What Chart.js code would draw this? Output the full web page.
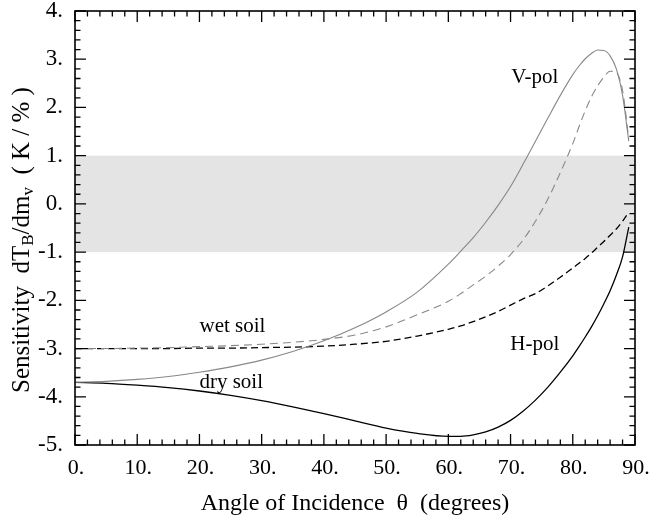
<!DOCTYPE html>
<html>
<head>
<meta charset="utf-8">
<script src="https://cdn.jsdelivr.net/npm/chart.js@4.4.0/dist/chart.umd.min.js"></script>
<style>
body { margin: 0; background: #fff; }
#wrap { width: 649px; height: 521px; }
</style>
</head>
<body>
<div id="wrap"><canvas id="sens"></canvas></div>
<script>
// incidence angle (degrees), shared by every curve
const angles  = [0, 5, 10, 15, 20, 25, 30, 35, 40, 45, 50, 55, 60, 62, 64, 66, 68, 70, 72, 74, 76, 78, 80, 81, 82, 83, 84, 85, 86, 87, 88, 89];
// sensitivity dTB/dmv (K/%)
const vpolDry = [-3.70, -3.68, -3.64, -3.58, -3.49, -3.38, -3.24, -3.06, -2.84, -2.57, -2.24, -1.83, -1.25, -0.98, -0.70, -0.38, -0.03, 0.36, 0.82, 1.30, 1.78, 2.25, 2.68, 2.86, 3.01, 3.12, 3.19, 3.18, 3.07, 2.80, 2.25, 1.30];
const vpolWet = [-3.00, -3.00, -2.99, -2.98, -2.96, -2.94, -2.91, -2.87, -2.81, -2.72, -2.55, -2.30, -2.02, -1.86, -1.68, -1.50, -1.29, -1.05, -0.75, -0.36, 0.10, 0.65, 1.25, 1.60, 1.93, 2.22, 2.45, 2.63, 2.75, 2.72, 2.35, 1.35];
const hpolWet = [-3.00, -3.00, -3.00, -3.00, -2.99, -2.99, -2.98, -2.97, -2.95, -2.91, -2.85, -2.74, -2.60, -2.53, -2.44, -2.34, -2.23, -2.10, -1.97, -1.86, -1.70, -1.52, -1.33, -1.23, -1.13, -1.02, -0.90, -0.78, -0.65, -0.52, -0.36, -0.17];
const hpolDry = [-3.70, -3.72, -3.76, -3.81, -3.88, -3.97, -4.08, -4.21, -4.35, -4.50, -4.65, -4.76, -4.82, -4.82, -4.79, -4.73, -4.63, -4.49, -4.30, -4.07, -3.80, -3.49, -3.15, -2.96, -2.76, -2.55, -2.32, -2.07, -1.80, -1.48, -1.10, -0.48];

// shaded band of +-1 K/%
const band = [-1, 1];

const xTickLabels = ['0.', '10.', '20.', '30.', '40.', '50.', '60.', '70.', '80.', '90.'];
const yTickLabels = ['-5.', '-4.', '-3.', '-2.', '-1.', '0.', '1.', '2.', '3.', '4.'];

// curve labels: [text, angle, value]
const notes = [
  ['V-pol', 73.9, 2.63],
  ['H-pol', 73.9, -2.91],
  ['wet soil', 25.3, -2.55],
  ['dry soil', 25.1, -3.71]
];

const serif = '"Liberation Serif", "DejaVu Serif", serif';

function pts(vals) {
  return angles.map((a, i) => ({ x: a, y: vals[i] }));
}

// band, frame, inward ticks, curve labels and the y title
const decor = {
  id: 'decor',
  beforeDatasetsDraw(chart) {
    const { ctx, chartArea: a, scales: { y } } = chart;
    const yHi = y.getPixelForValue(band[1]);
    const yLo = y.getPixelForValue(band[0]);
    ctx.save();
    ctx.fillStyle = '#e4e4e4';
    ctx.fillRect(a.left, yHi, a.right - a.left, yLo - yHi);
    ctx.restore();
  },
  afterDatasetsDraw(chart) {
    const { ctx, chartArea: a, scales: { x, y } } = chart;
    ctx.save();
    ctx.strokeStyle = '#000';
    ctx.lineWidth = 1.3;
    ctx.beginPath();
    // x ticks every 2 deg, major every 10
    for (let v = 0; v <= 90; v += 2) {
      const px = x.getPixelForValue(v);
      const len = v % 10 === 0 ? 11 : 5.5;
      ctx.moveTo(px, a.bottom); ctx.lineTo(px, a.bottom - len);
      ctx.moveTo(px, a.top); ctx.lineTo(px, a.top + len);
    }
    // y ticks every 0.2, major every 1
    for (let k = -25; k <= 20; k++) {
      const py = y.getPixelForValue(k / 5);
      const len = k % 5 === 0 ? 11 : 5.5;
      ctx.moveTo(a.left, py); ctx.lineTo(a.left + len, py);
      ctx.moveTo(a.right, py); ctx.lineTo(a.right - len, py);
    }
    ctx.stroke();
    ctx.lineWidth = 1.6;
    ctx.strokeRect(a.left, a.top, a.right - a.left, a.bottom - a.top);

    ctx.fillStyle = '#000';
    ctx.font = '21px ' + serif;
    ctx.textAlign = 'center';
    ctx.textBaseline = 'middle';
    notes.forEach(n => {
      ctx.fillText(n[0], x.getPixelForValue(n[1]), y.getPixelForValue(n[2]));
    });

    // y title with subscripts
    ctx.translate(22, y.getPixelForValue(-0.75));
    ctx.rotate(-Math.PI / 2);
    const parts = [['Sensitivity  dT', 0], ['B', 1], ['/dm', 0], ['v', 1], ['  ( K / % )', 0]];
    const big = '25px ' + serif, small = '17px ' + serif;
    let total = 0;
    parts.forEach(p => { ctx.font = p[1] ? small : big; total += ctx.measureText(p[0]).width; });
    let cx = -total / 2;
    ctx.textAlign = 'left';
    parts.forEach(p => {
      ctx.font = p[1] ? small : big;
      ctx.fillText(p[0], cx, p[1] ? 7 : 0);
      cx += ctx.measureText(p[0]).width;
    });
    ctx.restore();
  }
};

new Chart(document.getElementById('sens'), {
  type: 'line',
  data: {
    datasets: [
      { label: 'V-pol dry soil', data: pts(vpolDry), borderColor: '#888', borderWidth: 1.1 },
      { label: 'V-pol wet soil', data: pts(vpolWet), borderColor: '#888', borderWidth: 1.1, borderDash: [8, 5] },
      { label: 'H-pol wet soil', data: pts(hpolWet), borderColor: '#000', borderWidth: 1.3, borderDash: [7, 4] },
      { label: 'H-pol dry soil', data: pts(hpolDry), borderColor: '#000', borderWidth: 1.3 }
    ]
  },
  options: {
    responsive: true,
    maintainAspectRatio: false,
    animation: false,
    layout: { padding: { top: 11, right: 14, left: 0, bottom: 0 } },
    elements: { point: { radius: 0 }, line: { cubicInterpolationMode: 'monotone', fill: false } },
    plugins: { legend: { display: false }, tooltip: { enabled: false } },
    scales: {
      x: {
        type: 'linear',
        min: 0,
        max: 90,
        grid: { display: false, drawTicks: false },
        border: { display: false },
        ticks: {
          stepSize: 10,
          padding: 10,
          labelOffset: 1,
          color: '#000',
          font: { family: serif, size: 22 },
          maxRotation: 0,
          callback: (v) => xTickLabels[Math.round(v / 10)]
        },
        title: {
          display: true,
          text: 'Angle of Incidence  θ  (degrees)',
          color: '#000',
          font: { family: serif, size: 24 },
          padding: { top: 0, bottom: 3 }
        },
        afterFit: (s) => { s.height = 76; s.paddingLeft = 0; s.paddingRight = 0; }
      },
      y: {
        min: -5,
        max: 4,
        grid: { display: false, drawTicks: false },
        border: { display: false },
        ticks: {
          stepSize: 1,
          padding: 12,
          color: '#000',
          font: { family: serif, size: 23 },
          callback: (v) => yTickLabels[Math.round(v) + 5]
        },
        afterFit: (s) => { s.width = 75; s.paddingTop = 0; s.paddingBottom = 0; }
      }
    }
  },
  plugins: [decor]
});
</script>
</body>
</html>
